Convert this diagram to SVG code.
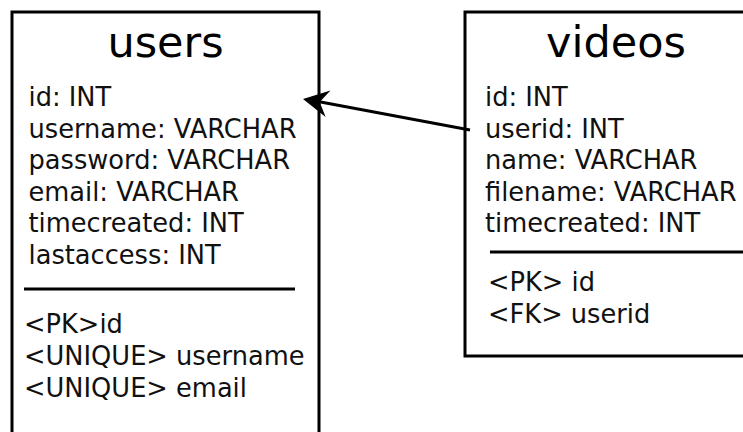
<svg xmlns="http://www.w3.org/2000/svg" width="743" height="432" viewBox="0 0 743 432">
<style>
.box{fill:#fff;stroke:#000;stroke-width:3}
.sep{stroke:#000;stroke-width:3}
.title{font-family:"DejaVu Sans",sans-serif;font-size:43px;fill:#000;text-anchor:middle}
.f{font-family:"DejaVu Sans",sans-serif;font-size:25.7px;fill:#111}
.conn{stroke:#000;stroke-width:3;fill:none}
</style>
<rect width="743" height="432" fill="#fff"/>
<g id="users">
<rect class="box" x="12" y="12" width="307" height="440"/>
<text class="title" x="165.5" y="57">users</text>
<text class="f" x="28.5" y="106">id: INT</text>
<text class="f" x="28.5" y="137.5">username: VARCHAR</text>
<text class="f" x="28.5" y="169">password: VARCHAR</text>
<text class="f" x="28.5" y="200.5">email: VARCHAR</text>
<text class="f" x="28.5" y="232">timecreated: INT</text>
<text class="f" x="28.5" y="263.5">lastaccess: INT</text>
<line class="sep" x1="24" y1="289" x2="295" y2="289"/>
<text class="f" x="24" y="333">&lt;PK&gt;id</text>
<text class="f" x="24" y="365">&lt;UNIQUE&gt; username</text>
<text class="f" x="24" y="397">&lt;UNIQUE&gt; email</text>
</g>
<g id="videos">
<rect class="box" x="465" y="12" width="302" height="344"/>
<text class="title" x="616" y="57">videos</text>
<text class="f" x="485" y="106">id: INT</text>
<text class="f" x="485" y="137.5">userid: INT</text>
<text class="f" x="485" y="169">name: VARCHAR</text>
<text class="f" x="485" y="200.5">filename: VARCHAR</text>
<text class="f" x="485" y="232">timecreated: INT</text>
<line class="sep" x1="490" y1="252" x2="760" y2="252"/>
<text class="f" x="488" y="291">&lt;PK&gt; id</text>
<text class="f" x="488" y="323">&lt;FK&gt; userid</text>
</g>
<g id="connectors">
<line class="conn" x1="470" y1="130" x2="318" y2="101.5"/>
<polygon points="303,99 330.5,90.4 319.7,102.1 325.6,116.9" fill="#000"/>
</g>
</svg>
